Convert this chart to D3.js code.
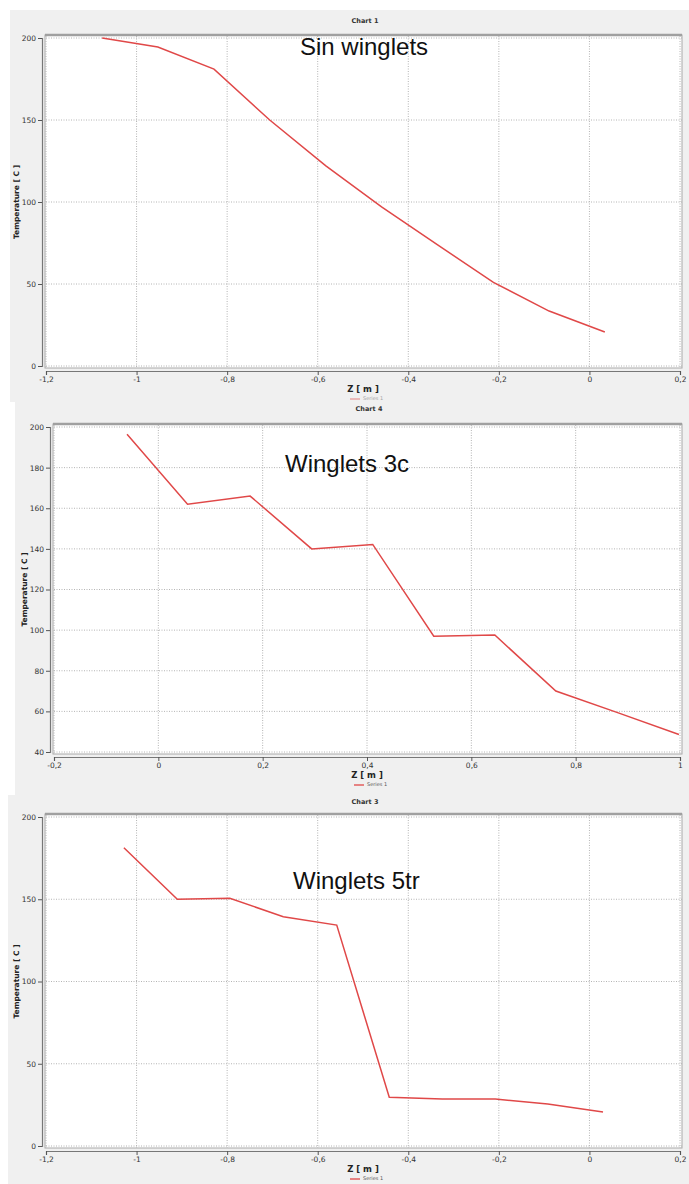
<!DOCTYPE html>
<html>
<head>
<meta charset="utf-8">
<script src="https://cdn.jsdelivr.net/npm/d3@7"></script>
<style>
  body { margin: 0; background: #fff; }
  svg { display: block; font-family: "DejaVu Sans", Verdana, sans-serif; }
</style>
</head>
<body>
<script>
var width = 689;
var height = 1184;

// Sin winglets (Chart 1)
var zSin = [-1.076, -0.953, -0.829, -0.706, -0.582, -0.459, -0.336, -0.212, -0.089, 0.034];
var tSin = [200, 194.5, 181, 150, 122, 97, 74, 51, 33.5, 20.7];

// Winglets 3c (Chart 4)
var z3c = [-0.06, 0.056, 0.176, 0.294, 0.411, 0.528, 0.645, 0.762, 0.879, 0.998];
var t3c = [196.4, 162, 166, 140, 142.2, 97, 97.6, 70, 59.5, 48.6];

// Winglets 5tr (Chart 3)
var z5tr = [-1.028, -0.91, -0.794, -0.676, -0.558, -0.442, -0.325, -0.208, -0.092, 0.03];
var t5tr = [181.3, 150, 150.6, 139.4, 134.3, 29.6, 28.6, 28.6, 25.5, 20.7];

var chartTitles = ["Chart 1", "Chart 4", "Chart 3"];
var chartLabels = ["Sin winglets", "Winglets 3c", "Winglets 5tr"];
var seriesName = "Series 1";
var xTitle = "Z [ m ]";
var yTitle = "Temperature [ C ]";

var xTicksA = [-1.2, -1, -0.8, -0.6, -0.4, -0.2, 0, 0.2];
var xTicksB = [-0.2, 0, 0.2, 0.4, 0.6, 0.8, 1];
var yTicksA = [0, 50, 100, 150, 200];
var yTicksB = [40, 60, 80, 100, 120, 140, 160, 180, 200];

// comma decimals like the original
var fmt = d3.formatLocale({decimal: ",", thousands: ".", grouping: [3], currency: ["", ""], minus: "-"}).format(".2~f");

var svg = d3.select("body").append("svg")
  .attr("width", width).attr("height", height);

var charts = [
  {title: chartTitles[0], label: chartLabels[0], z: zSin, t: tSin, xTicks: xTicksA, yTicks: yTicksA,
   xMinor: 0.05, yMinor: 10, panel: [10, 10, 679, 392], plot: [46, 680, 38, 366],
   labelAt: [300, 49], titleY: 21, faded: true},
  {title: chartTitles[1], label: chartLabels[1], z: z3c, t: t3c, xTicks: xTicksB, yTicks: yTicksB,
   xMinor: 0.05, yMinor: 5, panel: [15, 402, 674, 393], plot: [54, 680, 427, 752],
   labelAt: [285, 466], titleY: 409, faded: false},
  {title: chartTitles[2], label: chartLabels[2], z: z5tr, t: t5tr, xTicks: xTicksA, yTicks: yTicksA,
   xMinor: 0.05, yMinor: 10, panel: [8, 795, 681, 389], plot: [46, 680, 817, 1146],
   labelAt: [293, 883], titleY: 802, faded: false}
];

function drawChart(c) {
  var g = svg.append("g");
  var L = c.plot[0], R = c.plot[1], T = c.plot[2], B = c.plot[3];

  g.append("rect")
    .attr("x", c.panel[0]).attr("y", c.panel[1])
    .attr("width", c.panel[2]).attr("height", c.panel[3])
    .attr("fill", "#f0f0f0");

  var xd = d3.extent(c.xTicks), yd = d3.extent(c.yTicks);
  var x = d3.scaleLinear().domain(xd).range([L, R]);
  var y = d3.scaleLinear().domain(yd).range([B, T]);

  g.append("text")
    .attr("x", (L + R) / 2 + 2).attr("y", c.titleY)
    .attr("text-anchor", "middle").attr("dominant-baseline", "middle")
    .style("font-size", "6.5px").style("font-weight", "bold").style("fill", "#333")
    .text(c.title);

  // plot area
  g.append("rect")
    .attr("x", L - 1).attr("y", T - 3)
    .attr("width", R - L + 3).attr("height", B - T + 5)
    .attr("fill", "#fff").attr("stroke", "#a8a8a8").attr("stroke-width", 1);
  g.append("line")
    .attr("x1", L - 1).attr("x2", R + 2).attr("y1", T - 3).attr("y2", T - 3)
    .attr("stroke", "#a0a0a0").attr("stroke-width", 2.5);

  // grid
  g.append("g").selectAll("line").data(c.xTicks).enter().append("line")
    .attr("x1", function (d) { return x(d); }).attr("x2", function (d) { return x(d); })
    .attr("y1", T - 2).attr("y2", B + 2)
    .attr("stroke", "#b4b4b4").attr("stroke-dasharray", "1,1.5");
  g.append("g").selectAll("line").data(c.yTicks).enter().append("line")
    .attr("x1", L).attr("x2", R + 2)
    .attr("y1", function (d) { return y(d); }).attr("y2", function (d) { return y(d); })
    .attr("stroke", "#b4b4b4").attr("stroke-dasharray", "1,1.5");

  // y axis
  var yMinorTicks = d3.range(yd[0], yd[1] + 0.001, c.yMinor);
  var yAx = g.append("g").attr("transform", "translate(" + (L - 4) + ",0)");
  yAx.call(d3.axisLeft(y).tickValues(yMinorTicks).tickSize(2).tickFormat(""));
  yAx.call(d3.axisLeft(y).tickValues(c.yTicks).tickSize(4).tickPadding(2).tickFormat(fmt));

  // x axis
  var xMinorTicks = d3.range(xd[0], xd[1] + 0.001, c.xMinor);
  var xAx = g.append("g").attr("transform", "translate(0," + (B + 5) + ")");
  xAx.call(d3.axisBottom(x).tickValues(xMinorTicks).tickSize(2).tickFormat(""));
  xAx.call(d3.axisBottom(x).tickValues(c.xTicks).tickSize(4).tickPadding(2).tickFormat(fmt));

  g.selectAll(".domain").attr("stroke", "#777").attr("stroke-width", 1.2);
  g.selectAll(".tick line").attr("stroke", "#555");
  g.selectAll(".tick text").style("font-size", "7.5px").style("fill", "#333")
    .style("font-family", "'DejaVu Sans', Verdana, sans-serif");

  // axis titles
  g.append("text")
    .attr("x", (L + R) / 2).attr("y", B + 23)
    .attr("text-anchor", "middle").attr("dominant-baseline", "middle")
    .style("font-size", "8.5px").style("font-weight", "bold").style("fill", "#222")
    .text(xTitle);
  g.append("text")
    .attr("transform", "translate(" + (L - 29) + "," + ((T + B) / 2) + ") rotate(-90)")
    .attr("text-anchor", "middle").attr("dominant-baseline", "middle")
    .style("font-size", "7.5px").style("font-weight", "bold").style("fill", "#222")
    .text(yTitle);

  // legend
  var lg = g.append("g").attr("transform", "translate(" + ((L + R) / 2 - 13) + "," + (B + 33) + ")")
    .style("opacity", c.faded ? 0.5 : 1);
  lg.append("line").attr("x1", 0).attr("x2", 10).attr("y1", 0).attr("y2", 0)
    .attr("stroke", "#e04848").attr("stroke-width", 1.3);
  lg.append("text").attr("x", 13).attr("y", 0).attr("dominant-baseline", "middle")
    .style("font-size", "5px").style("fill", "#555").text(seriesName);

  // series line
  var line = d3.line()
    .x(function (d, i) { return x(c.z[i]); })
    .y(function (d) { return y(d); });
  g.append("path").datum(c.t)
    .attr("d", line)
    .attr("fill", "none")
    .attr("stroke", "#e04848")
    .attr("stroke-width", 1.5);

  // big annotation
  g.append("text")
    .attr("x", c.labelAt[0]).attr("y", c.labelAt[1])
    .attr("dominant-baseline", "middle")
    .style("font-family", "'Liberation Sans', Arial, sans-serif")
    .style("font-size", "24px").style("fill", "#111")
    .text(c.label);
}

charts.forEach(drawChart);
</script>
</body>
</html>
